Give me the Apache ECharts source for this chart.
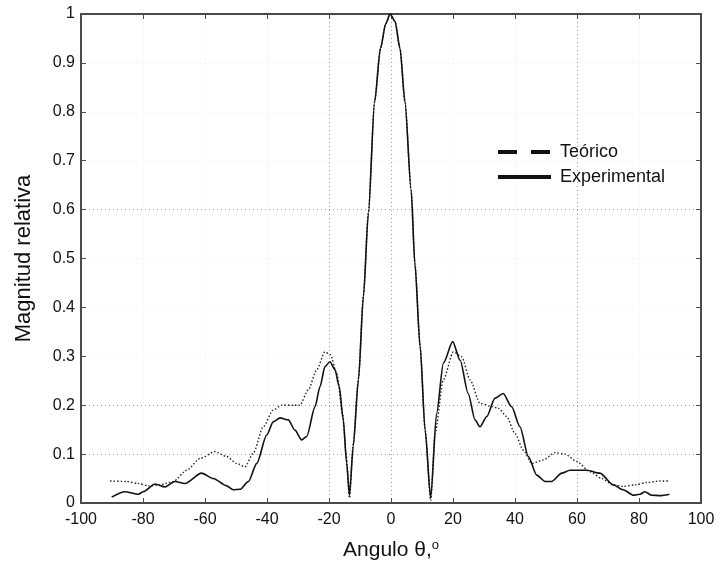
<!DOCTYPE html>
<html>
<head>
<meta charset="utf-8">
<script src="https://cdn.jsdelivr.net/npm/echarts@6/dist/echarts.min.js"></script>
<style>
html,body{margin:0;padding:0;background:#fff;}
#chart{width:720px;height:569px;}
</style>
</head>
<body>
<div id="chart"></div>
<script>
// ---- Data ----
const xTicks = [-100, -80, -60, -40, -20, 0, 20, 40, 60, 80, 100];
const yTicks = [0, 0.1, 0.2, 0.3, 0.4, 0.5, 0.6, 0.7, 0.8, 0.9, 1];

const expAngle = [-90.1,-85.8,-81.5,-79.9,-76.1,-72.9,-69.7,-66.5,-61.1,-57.3,-53,-50.9,-48.7,-46,-43.3,-40.1,-38,-35.8,-33.1,-31,-28.8,-27.2,-24.5,-22.9,-21.3,-19.7,-18.1,-16.7,-15.4,-14.3,-13.4,-12.2,-10.5,-8.9,-7.3,-5.3,-3.4,-1.7,-0.3,1.3,2.9,4.5,6.5,7.7,9.4,11,12.8,14.7,16.9,19.9,22.3,24.9,27.1,28.7,30.9,33.5,36.2,38.9,41.6,44.3,47,49.7,51.8,55.1,57.7,63.1,67.4,71.7,74.9,78.2,80.3,81.9,84.1,86.8,89.8];
const expMag = [0.012,0.023,0.018,0.023,0.039,0.033,0.044,0.040,0.061,0.050,0.035,0.027,0.028,0.044,0.081,0.139,0.166,0.174,0.170,0.149,0.129,0.136,0.197,0.238,0.279,0.289,0.273,0.238,0.170,0.081,0.016,0.115,0.252,0.422,0.592,0.82,0.93,0.98,1.0,0.985,0.93,0.82,0.64,0.49,0.32,0.149,0.01,0.183,0.286,0.330,0.292,0.224,0.170,0.156,0.177,0.214,0.224,0.197,0.156,0.095,0.057,0.044,0.044,0.061,0.067,0.067,0.061,0.037,0.027,0.016,0.018,0.023,0.016,0.015,0.018];

const teoAngle = [-90.6,-85.3,-81.5,-78.3,-74.5,-70.2,-65.9,-61.6,-56.8,-53,-49.8,-47.1,-44.4,-41.2,-38,-35.3,-31.5,-29.4,-26.7,-24,-21.3,-19.5,-17.5,-15.6,-14.5,-13.4,-12.2,-10.5,-8.9,-7.3,-5.3,-3.4,-1.7,-0.3,1.3,2.9,4.5,6.5,7.7,9.4,11,12.8,14.2,16.9,20.1,22.8,25.5,28.7,31.9,34.6,37.3,40,42.7,45.4,49.1,52.9,56.1,59.9,64.2,68,71.7,74.9,78.7,82.5,86.8,89.5];
const teoMag = [0.045,0.044,0.040,0.035,0.037,0.044,0.067,0.091,0.105,0.095,0.081,0.074,0.102,0.156,0.190,0.200,0.200,0.200,0.231,0.272,0.309,0.303,0.265,0.183,0.102,0.01,0.12,0.255,0.425,0.595,0.82,0.93,0.98,1.0,0.985,0.93,0.82,0.64,0.49,0.32,0.15,0.005,0.142,0.252,0.309,0.299,0.252,0.204,0.198,0.194,0.177,0.142,0.108,0.081,0.088,0.103,0.100,0.085,0.064,0.050,0.037,0.034,0.037,0.042,0.045,0.045];

const seriesNames = ['Teórico', 'Experimental'];

// ---- Build ----
const zip = (a, b) => a.map((v, i) => [v, b[i]]);
const axisColor = '#4a4a4a';
const fontFam = '"Liberation Sans", Arial, sans-serif';
const visGrid = '#9a9a9a', faintGrid = '#ececec';

const chart = echarts.init(document.getElementById('chart'), null, {renderer: 'canvas'});
const xMin = xTicks[0], xMax = xTicks[xTicks.length - 1];
const yMin = yTicks[0], yMax = yTicks[yTicks.length - 1];

const baseX = {
  type: 'value', min: xMin, max: xMax, interval: xTicks[1] - xTicks[0],
  axisLine: {show: true, onZero: false, lineStyle: {color: axisColor, width: 2}},
  axisTick: {show: true, inside: true, length: 5, lineStyle: {color: axisColor, width: 1}}
};
const baseY = {
  type: 'value', min: yMin, max: yMax, interval: 0.1,
  axisLine: {show: true, onZero: false, lineStyle: {color: axisColor, width: 2}},
  axisTick: {show: true, inside: true, length: 5, lineStyle: {color: axisColor, width: 1}}
};

chart.setOption({
  animation: false,
  backgroundColor: '#fff',
  grid: {left: 81, right: 19, top: 14, bottom: 66, containLabel: false},
  legend: {
    orient: 'vertical', left: 496, top: 143, padding: 0,
    itemWidth: 53, itemHeight: 14, itemGap: 7,
    itemStyle: {opacity: 0},
    textStyle: {fontFamily: fontFam, fontSize: 18, color: '#111', padding: [0, 0, 0, 4]},
    data: [
      {name: seriesNames[0], itemStyle: {opacity: 0}, lineStyle: {type: [19, 14], width: 4, color: '#111'}},
      {name: seriesNames[1], itemStyle: {opacity: 0}, lineStyle: {type: 'solid', width: 4, color: '#111'}}
    ]
  },
  xAxis: [
    Object.assign({}, baseX, {
      position: 'bottom',
      name: 'Angulo θ,{sup|o}', nameLocation: 'middle', nameGap: 36,
      nameTextStyle: {fontFamily: fontFam, fontSize: 21, color: '#111',
        rich: {sup: {fontFamily: fontFam, fontSize: 13, color: '#111', padding: [0, 0, 10, 0]}}},
      axisLabel: {fontFamily: fontFam, fontSize: 16, color: '#111', margin: 9},
      splitLine: {show: true, lineStyle: {type: [1, 3], width: 1,
        color: ['none', faintGrid, faintGrid, faintGrid, visGrid, visGrid, faintGrid, faintGrid, visGrid, faintGrid, 'none']}}
    }),
    Object.assign({}, baseX, {position: 'top', axisLabel: {show: false}, splitLine: {show: false}})
  ],
  yAxis: [
    Object.assign({}, baseY, {
      position: 'left',
      name: 'Magnitud relativa', nameLocation: 'middle', nameGap: 46, nameRotate: 90,
      nameTextStyle: {fontFamily: fontFam, fontSize: 22, color: '#111'},
      axisLabel: {fontFamily: fontFam, fontSize: 16, color: '#111', margin: 6,
        formatter: v => String(Math.round(v * 10) / 10)},
      splitLine: {show: true, lineStyle: {type: [1, 3], width: 1,
        color: ['none', visGrid, visGrid, faintGrid, faintGrid, faintGrid, visGrid, faintGrid, faintGrid, faintGrid, 'none']}}
    }),
    Object.assign({}, baseY, {position: 'right', axisLabel: {show: false}, splitLine: {show: false}})
  ],
  series: [
    {
      name: seriesNames[0], type: 'line', xAxisIndex: 0, yAxisIndex: 0,
      data: zip(teoAngle, teoMag), symbol: 'none', showSymbol: false,
      smooth: 0.25, smoothMonotone: 'x',
      lineStyle: {color: '#222', width: 1.4, type: [1.5, 2]},
      itemStyle: {color: '#111'}, z: 3
    },
    {
      name: seriesNames[1], type: 'line', xAxisIndex: 0, yAxisIndex: 0,
      data: zip(expAngle, expMag), symbol: 'none', showSymbol: false,
      smooth: 0.25, smoothMonotone: 'x',
      lineStyle: {color: '#111', width: 1.6, type: 'solid'},
      itemStyle: {color: '#111'}, z: 4
    }
  ]
});
</script>
</body>
</html>
